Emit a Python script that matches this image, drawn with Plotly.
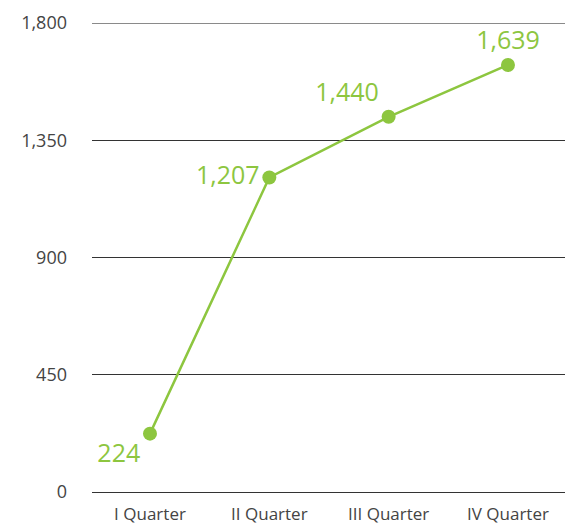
import plotly.graph_objects as go

quarters = ["I Quarter", "II Quarter", "III Quarter", "IV Quarter"]
values = [224, 1207, 1440, 1639]
label_positions = ["bottom left", "middle left", "top left", "top center"]
y_ticks = [0, 450, 900, 1350, 1800]

green = "#8dc63f"

fig = go.Figure()

fig.add_trace(go.Scatter(
    x=quarters,
    y=values,
    mode="lines+markers+text",
    line=dict(color=green, width=2.5),
    marker=dict(color=green, size=14),
    text=[f"{v:,}" for v in values],
    textposition=label_positions,
    textfont=dict(family="Open Sans", size=25, color=green),
    cliponaxis=False,
    hoverinfo="skip",
))

# top gridline is drawn lighter in the reference
fig.add_shape(type="line", xref="paper", yref="y", x0=0, x1=1,
              y0=y_ticks[-1], y1=y_ticks[-1],
              line=dict(color="#8a8a8a", width=2), layer="below")

fig.update_xaxes(
    type="category",
    range=[-0.486, 3.545],
    showgrid=False,
    showline=False,
    zeroline=False,
    ticks="",
    ticklabelstandoff=10,
    tickfont=dict(family="Open Sans", size=17, color="#444"),
)

fig.update_yaxes(
    range=[0, 1800],
    tickvals=y_ticks,
    tickformat=",",
    showgrid=True,
    gridcolor="#333",
    gridwidth=1,
    zeroline=True,
    zerolinecolor="#333",
    zerolinewidth=1,
    showline=False,
    ticks="",
    ticklabelstandoff=24,
    tickfont=dict(family="Open Sans", size=18, color="#444"),
)

# page body adds an 8px margin, so the figure is shrunk by that much
fig.update_layout(
    width=565,
    height=516,
    margin=dict(l=84, r=0, t=15, b=32),
    plot_bgcolor="white",
    paper_bgcolor="white",
    showlegend=False,
)

fig.write_html("out.html")
